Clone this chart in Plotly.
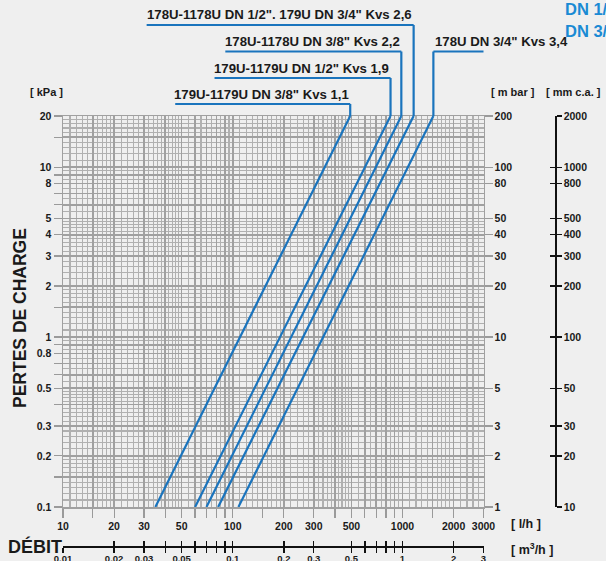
import numpy as np
import plotly.graph_objects as go

# ---------------- data ----------------
series_labels = [
    '179U-1179U DN 3/8" Kvs 1,1',
    '179U-1179U DN 1/2" Kvs 1,9',
    '178U-1178U DN 3/8" Kvs 2,2',
    '178U-1178U DN 1/2". 179U DN 3/4" Kvs 2,6',
    '178U DN 3/4" Kvs 3,4',
]
flow_at_low_lh = [35, 60, 70, 82, 108]          # l/h at 0.1 kPa
flow_at_high_lh = [492, 850, 984, 1163, 1520]   # l/h at 20 kPa
dp_ends_kpa = [0.1, 20]

x_tick_vals = [10, 15, 20, 30, 40, 50, 60, 70, 80, 90, 100, 150, 200, 300, 400, 500,
               600, 700, 800, 900, 1000, 1500, 2000, 3000]
x_tick_labels = ['10', '', '20', '30', '', '50', '', '', '', '', '100', '', '200', '300', '',
                 '500', '', '', '', '', '1000', '', '2000', '3000']
y_tick_vals = [0.1, 0.15, 0.2, 0.3, 0.4, 0.5, 0.6, 0.7, 0.8, 0.9, 1, 1.5, 2, 3, 4, 5, 6, 7, 8,
               9, 10, 15, 20]
y_tick_labels = ['0.1', '', '0.2', '0.3', '', '0.5', '', '', '0.8', '', '1', '', '2', '3', '4',
                 '5', '', '', '8', '', '10', '', '20']
mbar_ticks = [1, 2, 3, 5, 10, 20, 30, 40, 50, 80, 100, 200]
mmca_ticks = [10, 20, 30, 50, 100, 200, 300, 400, 500, 800, 1000, 2000]
m3h_tick_vals = [0.01, 0.02, 0.03, 0.04, 0.05, 0.06, 0.07, 0.08, 0.09, 0.1, 0.2, 0.3, 0.5,
                 0.6, 0.7, 0.8, 0.9, 1, 2, 3]
m3h_tick_labels = ['0.01', '0.02', '0.03', '', '0.05', '', '', '', '', '0.1', '0.2', '0.3',
                   '0.5', '', '', '', '', '1', '2', '3']

# ---------------- layout geometry ----------------
W, H = 606, 561
ML, MR, MT, MB = 63, 10, 116, 0
PW, PH = W - ML - MR, H - MT - MB
X_RIGHT_PX, Y_BOTTOM_PX = 483.5, 507


def pxx(px):
    return (px - ML) / PW


def pxy(py):
    return (H - MB - py) / PH


XD = [0, pxx(X_RIGHT_PX)]
YD = [pxy(Y_BOTTOM_PX), 1]

BLUE = '#1a74bd'
GRID_MAJ = '#a0a0a0'
GRID_MIN = '#b0b0b0'
BG = '#efefef'
FONT = 'Liberation Sans, Arial, Helvetica, sans-serif'
TXT = '#1a1a1a'


def minor_vals(lo, hi):
    out = []
    for base in [0.01, 0.1, 1, 10, 100, 1000]:
        steps = list(np.arange(1.1, 2.0, 0.1)) + list(np.arange(2.2, 5.0, 0.2)) + \
            list(np.arange(5.5, 10.0, 0.5))
        for s in steps:
            v = round(base * s, 6)
            if lo < v < hi:
                out.append(v)
    return out


fig = go.Figure()

for lab, q0, q1 in zip(series_labels, flow_at_low_lh, flow_at_high_lh):
    fig.add_trace(go.Scatter(x=[q0, q1], y=dp_ends_kpa, mode='lines',
                             line=dict(color=BLUE, width=2.2), name=lab,
                             hoverinfo='skip', showlegend=False))

# dummy traces so overlay axes get drawn
fig.add_trace(go.Scatter(x=[10, 3000], y=[1, 200], xaxis='x', yaxis='y2', mode='lines',
                         line=dict(width=0), opacity=0, hoverinfo='skip', showlegend=False))
fig.add_trace(go.Scatter(x=[10, 3000], y=[10, 2000], xaxis='x', yaxis='y3', mode='lines',
                         line=dict(width=0), opacity=0, hoverinfo='skip', showlegend=False))
fig.add_trace(go.Scatter(x=[10, 3000], y=[10, 2000], xaxis='x', yaxis='y4', mode='lines',
                         line=dict(width=0), opacity=0, hoverinfo='skip', showlegend=False))
fig.add_trace(go.Scatter(x=[0.01, 3], y=[0.1, 20], xaxis='x2', yaxis='y', mode='lines',
                         line=dict(width=0), opacity=0, hoverinfo='skip', showlegend=False))
fig.add_trace(go.Scatter(x=[0.01, 3], y=[0.1, 20], xaxis='x3', yaxis='y', mode='lines',
                         line=dict(width=0), opacity=0, hoverinfo='skip', showlegend=False))

tickfont = dict(family=FONT, size=10.5, color=TXT, weight='bold')

fig.update_layout(
    width=W, height=H, template='none',
    margin=dict(l=ML, r=MR, t=MT, b=MB, pad=0),
    paper_bgcolor=BG, plot_bgcolor=BG, showlegend=False,
    font=dict(family=FONT, size=10.5, color=TXT, weight='bold'),
    xaxis=dict(type='log', range=[np.log10(10), np.log10(3000)], domain=XD, anchor='y',
               tickmode='array', tickvals=x_tick_vals, ticktext=x_tick_labels,
               ticks='outside', ticklen=9, tickcolor='#9a9a9a', tickwidth=1.2,
               tickfont=tickfont, showgrid=True, gridcolor=GRID_MAJ, gridwidth=1.5,
               minor=dict(tickvals=minor_vals(10, 3000), showgrid=True,
                          gridcolor=GRID_MIN, gridwidth=1.1, ticks=''),
               showline=True, linecolor=GRID_MAJ, linewidth=1.5, mirror=True,
               zeroline=False, automargin=False, fixedrange=True),
    yaxis=dict(type='log', range=[np.log10(0.1), np.log10(20)], domain=YD, anchor='x',
               tickmode='array', tickvals=y_tick_vals, ticktext=y_tick_labels,
               ticks='outside', ticklen=8, tickcolor='#9a9a9a', tickwidth=1.2,
               tickfont=tickfont, showgrid=True, gridcolor=GRID_MAJ, gridwidth=1.5,
               minor=dict(tickvals=minor_vals(0.1, 20), showgrid=True,
                          gridcolor=GRID_MIN, gridwidth=1.1, ticks=''),
               showline=True, linecolor=GRID_MAJ, linewidth=1.5, mirror=True,
               zeroline=False, automargin=False, fixedrange=True),
    yaxis2=dict(type='log', range=[0, np.log10(200)], overlaying='y', side='right',
                anchor='x', tickmode='array', tickvals=mbar_ticks,
                ticktext=[str(v) for v in mbar_ticks], ticks='outside', ticklen=8,
                tickcolor='#9a9a9a', tickwidth=1.2, tickfont=tickfont,
                showgrid=False, zeroline=False, showline=False, automargin=False),
    yaxis3=dict(type='log', range=[1, np.log10(2000)], overlaying='y', side='right',
                anchor='free', position=pxx(555), tickmode='array', tickvals=mmca_ticks,
                ticktext=[str(v) for v in mmca_ticks], ticks='outside', ticklen=5,
                tickcolor='#111', tickwidth=1.3, tickfont=tickfont,
                showline=True, linecolor='#111', linewidth=1.6,
                showgrid=False, zeroline=False, automargin=False),
    yaxis4=dict(type='log', range=[1, np.log10(2000)], overlaying='y', side='right',
                anchor='free', position=pxx(555), tickmode='array', tickvals=mmca_ticks,
                ticks='inside', ticklen=5, tickcolor='#111', tickwidth=1.3,
                showticklabels=False, showline=False,
                showgrid=False, zeroline=False, automargin=False),
    xaxis2=dict(type='log', range=[np.log10(0.01), np.log10(3)], overlaying='x',
                side='bottom', anchor='free', position=pxy(546),
                tickmode='array', tickvals=m3h_tick_vals,
                ticks='outside', ticklen=5, tickcolor='#111', tickwidth=1.3,
                showticklabels=False,
                showline=True, linecolor='#111', linewidth=1.6,
                showgrid=False, zeroline=False, automargin=False),
    xaxis3=dict(type='log', range=[np.log10(0.01), np.log10(3)], overlaying='x',
                side='bottom', anchor='free', position=pxy(546),
                tickmode='array', tickvals=m3h_tick_vals, ticktext=m3h_tick_labels,
                ticks='inside', ticklen=5, tickcolor='#111', tickwidth=1.3,
                ticklabelstandoff=5,
                tickfont=dict(family=FONT, size=9.5, color=TXT, weight='bold'),
                showticklabels=True, showline=False,
                showgrid=False, zeroline=False, automargin=False),
)

# ---------------- curve labels with leader lines ----------------
label_underline_py = [104, 78, 51.5, 25, 51.5]
label_span_px = [-175, -176, -176, -267, 133]   # negative: label to the left
px_per_decade = PW * (XD[1] - XD[0]) / (np.log10(3000) - np.log10(10))
shapes = []
annots = []
for lab, qt, upy, span in zip(series_labels, flow_at_high_lh, label_underline_py,
                              label_span_px):
    yl = pxy(upy)
    qend = qt * 10 ** (span / px_per_decade)
    shapes.append(dict(type='line', xref='x', yref='paper', x0=qt, x1=qt, y0=1, y1=yl,
                       line=dict(color=BLUE, width=2.2), layer='above'))
    shapes.append(dict(type='line', xref='x', yref='paper', x0=qt, x1=qend, y0=yl, y1=yl,
                       line=dict(color=BLUE, width=2.2), layer='above'))
    annots.append(dict(xref='x', yref='paper',
                       x=np.log10(qt) + (0.004 if span < 0 else -0.004), y=pxy(upy - 0.5),
                       xanchor='right' if span < 0 else 'left', yanchor='bottom',
                       text=lab, showarrow=False,
                       font=dict(family=FONT, size=13.2, color=TXT, weight='bold')))

unit_font = dict(family=FONT, size=11, color=TXT, weight='bold')
annots += [
    dict(x=pxx(46), y=pxy(92), text='[ kPa ]', font=unit_font),
    dict(x=pxx(513), y=pxy(92), text='[ m bar ]', font=unit_font),
    dict(x=pxx(573), y=pxy(92), text='[ mm c.a. ]', font=unit_font),
    dict(x=pxx(509), y=pxy(524), text='[ l/h ]', xanchor='left',
         font=dict(family=FONT, size=12.5, color=TXT, weight='bold')),
    dict(x=pxx(509), y=pxy(549), text='[ m<sup>3</sup>/h ]', xanchor='left',
         font=dict(family=FONT, size=12.5, color=TXT, weight='bold')),
    dict(x=pxx(6), y=pxy(546), text='DÉBIT', xanchor='left',
         font=dict(family=FONT, size=18, color=TXT, weight='bold')),
    dict(x=pxx(20), y=pxy(318), text='PERTES DE CHARGE', textangle=-90,
         font=dict(family=FONT, size=17.5, color=TXT, weight='bold')),
    dict(x=pxx(563), y=pxy(9), text='DN 1/2"', xanchor='left',
         font=dict(family=FONT, size=16.5, color='#1a8ad4', weight='bold')),
    dict(x=pxx(563), y=pxy(31), text='DN 3/4"', xanchor='left',
         font=dict(family=FONT, size=16.5, color='#1a8ad4', weight='bold')),
]
for a in annots:
    a.setdefault('xref', 'paper')
    a.setdefault('yref', 'paper')
    a.setdefault('showarrow', False)
    a.setdefault('xanchor', 'center')
    a.setdefault('yanchor', 'middle')

fig.update_layout(shapes=shapes, annotations=annots)
fig.write_html('out.html',
               config=dict(displayModeBar=False, staticPlot=True),
               post_script="document.body.style.margin='0';"
                           "document.body.style.overflow='hidden';")
